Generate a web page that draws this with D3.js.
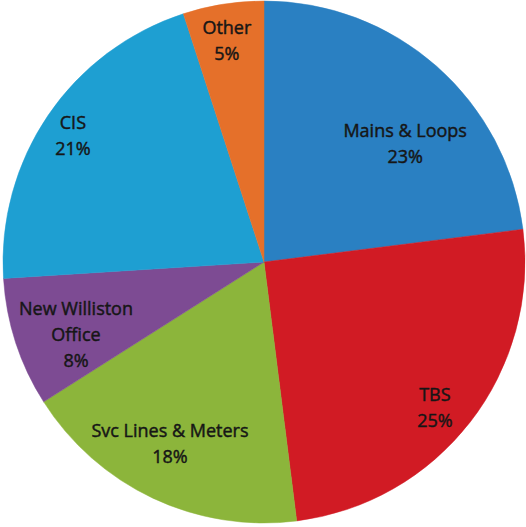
<!DOCTYPE html>
<html>
<head>
<meta charset="utf-8">
<script src="https://cdn.jsdelivr.net/npm/d3@7"></script>
<style>
  body { margin: 0; background: #fff; }
  svg { display: block; }
</style>
</head>
<body>
<div id="chart"></div>
<script>
// slice data, clockwise from 12 o'clock
const names = ["Mains & Loops", "TBS", "Svc Lines & Meters", "New Williston Office", "CIS", "Other"];
const shares = [23, 25, 18, 8, 21, 5];
const colors = ["#2a80c2", "#d11b24", "#8cb53b", "#7d4b93", "#1e9fd2", "#e5702a"];
// label line breaks, and how far out (fraction of radius) / how far off the bisector (deg) each label sits
const labelLines = [["Mains & Loops"], ["TBS"], ["Svc Lines & Meters"], ["New Williston", "Office"], ["CIS"], ["Other"]];
const labelR = [0.706, 0.861, 0.783, 0.772, 0.877, 0.862];
const labelTurn = [8.6, 2.7, 2.2, -3.1, -0.8, -0.5];

const W = 526, H = 527;
const cx = 264, cy = 262, R = 261;

const data = names.map((n, i) => ({name: n, value: shares[i], i: i}));

const svg = d3.select("#chart").append("svg")
    .attr("width", W).attr("height", H);
const g = svg.append("g").attr("transform", "translate(" + cx + "," + cy + ")");

const pie = d3.pie().sort(null).value(d => d.value);
const arc = d3.arc().innerRadius(0).outerRadius(R);
const arcs = pie(data);

g.selectAll("path.slice")
  .data(arcs)
  .enter()
  .append("path")
    .attr("class", "slice")
    .attr("d", arc)
    .attr("fill", d => colors[d.data.i])
    .attr("stroke", d => colors[d.data.i])
    .attr("stroke-width", 0.5);

const labels = g.selectAll("text.lbl")
  .data(arcs)
  .enter()
  .append("text")
    .attr("class", "lbl")
    .attr("text-anchor", "middle")
    .style("font-family", "'Open Sans', sans-serif")
    .style("font-size", "18px")
    .style("fill", "#161616")
    .style("stroke", "#161616")
    .style("stroke-width", 0.45)
    .attr("transform", d => {
        const a = (d.startAngle + d.endAngle) / 2 + labelTurn[d.data.i] * Math.PI / 180;
        const r = R * labelR[d.data.i];
        return "translate(" + (Math.sin(a) * r) + "," + (-Math.cos(a) * r) + ")";
    });

labels.each(function(d) {
    const lines = labelLines[d.data.i].concat([d.data.value + "%"]);
    const t = d3.select(this);
    const n = lines.length;
    lines.forEach((s, k) => {
        t.append("tspan")
          .attr("x", 0)
          .attr("y", (k - (n - 1) / 2) * 26 + 6.5)
          .text(s);
    });
});
</script>
</body>
</html>
